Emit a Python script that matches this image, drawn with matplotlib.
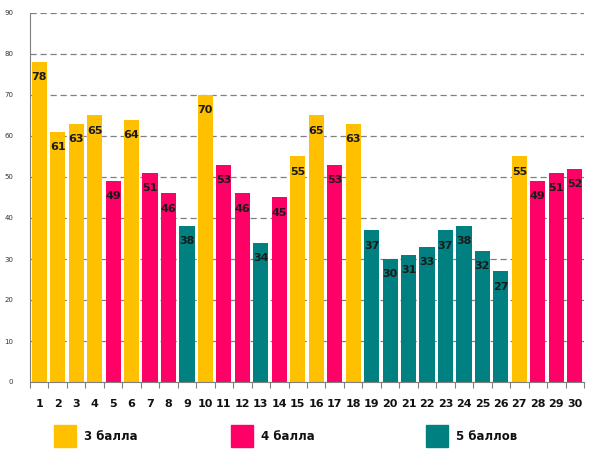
import numpy as np
import matplotlib.pyplot as plt
from matplotlib.patches import Rectangle

# Pupils 1..30 and their scores
pupils = list(range(1, 31))
scores = [78, 61, 63, 65, 49, 64, 51, 46, 38, 70,
          53, 46, 34, 45, 55, 65, 53, 63, 37, 30,
          31, 33, 37, 38, 32, 27, 55, 49, 51, 52]
grades = [3, 3, 3, 3, 4, 3, 4, 4, 5, 3,
          4, 4, 5, 4, 3, 3, 4, 3, 5, 5,
          5, 5, 5, 5, 5, 5, 3, 4, 4, 4]
legend_labels = ['3 балла', '4 балла', '5 баллов']

grade_colors = {3: '#FFC000', 4: '#FF0066', 5: '#008080'}

fig = plt.figure(figsize=(5.98, 4.67), dpi=100)
ax = fig.add_axes([30 / 598, 1 - 382 / 467, 554 / 598, 369 / 467])

x = np.arange(len(pupils))
colors = [grade_colors[g] for g in grades]
bars = ax.bar(x, scores, width=0.82, color=colors, zorder=2)

for xi, v in zip(x, scores):
    ax.annotate(str(v), (xi, v), xytext=(0, -11), textcoords='offset points',
                ha='center', va='center', fontsize=8, fontweight='bold',
                color='#1a1a1a', zorder=3)

ax.set_xlim(-0.5, len(pupils) - 0.5)
ax.set_ylim(0, 90)
ax.set_yticks(np.arange(0, 91, 10))
ax.tick_params(axis='y', labelsize=5, length=0, pad=12, colors='#333333')
ax.grid(True, axis='y', linestyle=(0, (5, 3)), color='#808080', linewidth=0.9, zorder=1)

# x ticks between categories, labels centered on bars
ax.set_xticks(np.arange(-0.5, len(pupils), 1.0))
ax.set_xticklabels([])
ax.set_xticks(x, minor=True)
ax.set_xticklabels([str(p) for p in pupils], minor=True, fontsize=8,
                   fontweight='bold', color='#111111')
ax.tick_params(axis='x', which='major', length=4, color='#808080', direction='out')
ax.tick_params(axis='x', which='minor', length=0, pad=12)

for s in ['top', 'right']:
    ax.spines[s].set_visible(False)
ax.spines['left'].set_color('#808080')
ax.spines['bottom'].set_color('#808080')

# custom legend below the axes
leg_x = [54, 231, 426]
for lx, g, lab in zip(leg_x, [3, 4, 5], legend_labels):
    fig.patches.append(Rectangle((lx / 598, 1 - 447 / 467), 22 / 598, 22 / 467,
                                 transform=fig.transFigure, color=grade_colors[g]))
    fig.text((lx + 30) / 598, 1 - 437 / 467, lab, fontsize=8.5, fontweight='bold',
             va='center', ha='left', color='#111111')

plt.savefig('out.png', dpi=100)
